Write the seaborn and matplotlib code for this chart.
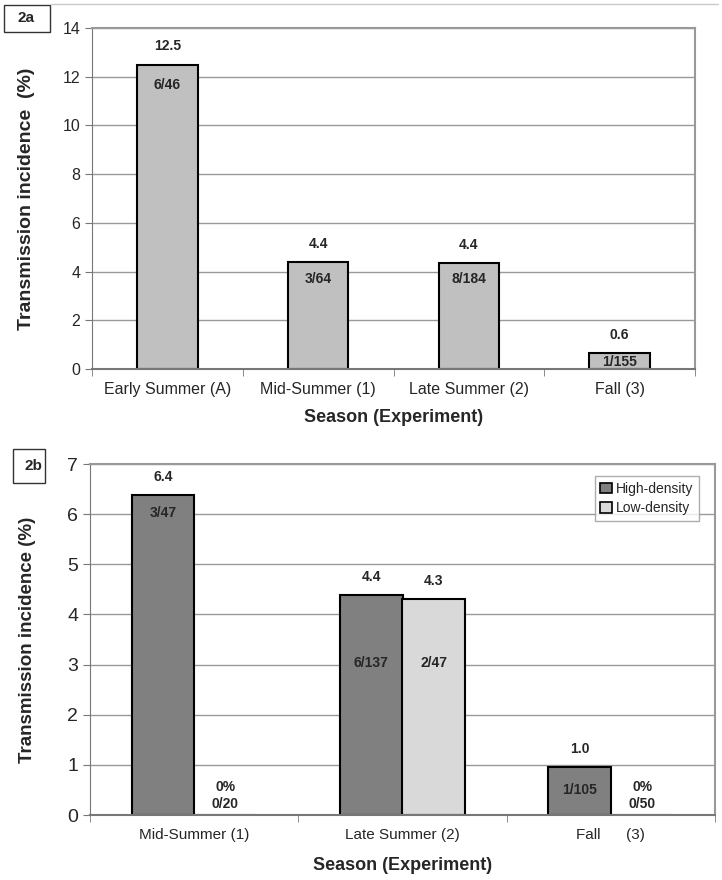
import numpy as np
import pandas as pd
import matplotlib
matplotlib.use("Agg")
import matplotlib.pyplot as plt
import seaborn as sns

# panel 2a data
seasons_a = ["Early Summer (A)", "Mid-Summer (1)", "Late Summer (2)", "Fall (3)"]
incidence_a = [12.5, 4.4, 4.35, 0.65]
value_text_a = ["12.5", "4.4", "4.4", "0.6"]
frac_text_a = ["6/46", "3/64", "8/184", "1/155"]
frac_y_a = [11.65, 3.7, 3.7, 0.3]

# panel 2b data
seasons_b = ["Mid-Summer (1)", "Late Summer (2)", "Fall      (3)"]
density = ["High-density", "Low-density"]
incidence_high = [6.38, 4.38, 0.95]
incidence_low = [0.0, 4.3, 0.0]
value_text_high = ["6.4", "4.4", "1.0"]
value_text_low = ["", "4.3", ""]
frac_text_high = ["3/47", "6/137", "1/105"]
frac_text_low = ["0%\n0/20", "2/47", "0%\n0/50"]
frac_y_high = [6.03, 3.03, 0.5]
frac_y_low = [0.39, 3.03, 0.39]

sns.set_style("white")
plt.rcParams["font.family"] = ["Liberation Sans", "DejaVu Sans"]

W, H = 722, 880
fig = plt.figure(figsize=(W / 100, H / 100), dpi=100)
ax1 = fig.add_axes([92 / W, 511 / H, 603 / W, 341 / H])
ax2 = fig.add_axes([90 / W, 65 / H, 625 / W, 351 / H])

grid_col = "#999999"
bold = dict(fontweight="bold")


def style_axes(ax, n):
    ax.set_xlim(-0.5, n - 0.5)
    ax.yaxis.grid(True, color=grid_col, lw=1)
    ax.set_axisbelow(True)
    for side in ["top", "right"]:
        ax.spines[side].set_color(grid_col)
        ax.spines[side].set_linewidth(1.5)
    ax.spines["left"].set_color("#777777")
    ax.spines["bottom"].set_color("#777777")
    ax.spines["bottom"].set_linewidth(1.5)
    ax.set_xticks(np.arange(n))
    ax.set_xticks(np.arange(n + 1) - 0.5, minor=True)
    ax.tick_params(axis="x", which="major", length=0, pad=9)
    ax.tick_params(axis="x", which="minor", length=5, color="#777777", bottom=True)
    ax.tick_params(axis="y", length=5, color="#777777", left=True)


def panel_tag(label, x0, y0, x1, y1, tx):
    # box given in pixels from the top-left corner
    fig.add_artist(plt.Rectangle((x0 / W, 1 - y1 / H), (x1 - x0) / W, (y1 - y0) / H,
                                 transform=fig.transFigure, fc="white", ec="#333333", lw=1))
    fig.text(tx / W, 1 - (y0 + y1) / 2 / H, label, ha="center", va="center",
             fontsize=11, **bold)


# ---- 2a ----
df_a = pd.DataFrame({"season": seasons_a, "inc": incidence_a})
sns.barplot(data=df_a, x="season", y="inc", color="#C0C0C0", saturation=1,
            width=0.4, edgecolor="black", linewidth=1.5, ax=ax1)
style_axes(ax1, len(seasons_a))
ax1.set_ylim(0, 14)
ax1.set_yticks(range(0, 15, 2))
ax1.tick_params(axis="both", labelsize=11.5)
for i, (v, vt, ft, fy) in enumerate(zip(incidence_a, value_text_a, frac_text_a, frac_y_a)):
    ax1.annotate(vt, (i, v), xytext=(0, 13), textcoords="offset points",
                 ha="center", va="center", fontsize=10, **bold)
    ax1.text(i, fy, ft, ha="center", va="center", fontsize=10, **bold)
ax1.set_xlabel("Season (Experiment)", fontsize=13, labelpad=9, **bold)
ax1.set_ylabel("Transmission incidence  (%)", fontsize=14, **bold)
ax1.yaxis.set_label_coords(-0.094, 0.5)

# ---- 2b ----
df_b = pd.DataFrame({
    "season": seasons_b * 2,
    "density": [density[0]] * 3 + [density[1]] * 3,
    "inc": incidence_high + incidence_low,
})
sns.barplot(data=df_b, x="season", y="inc", hue="density",
            palette=["#808080", "#D9D9D9"], saturation=1, width=0.6,
            edgecolor="black", linewidth=1.5, ax=ax2)
style_axes(ax2, len(seasons_b))
ax2.set_ylim(0, 7)
ax2.set_yticks(range(0, 8))
ax2.tick_params(axis="x", labelsize=11)
ax2.tick_params(axis="y", labelsize=14)
for i in range(len(seasons_b)):
    xh, xl = i - 0.15, i + 0.15
    ax2.annotate(value_text_high[i], (xh, incidence_high[i]), xytext=(0, 13),
                 textcoords="offset points", ha="center", va="center", fontsize=10, **bold)
    if value_text_low[i]:
        ax2.annotate(value_text_low[i], (xl, incidence_low[i]), xytext=(0, 13),
                     textcoords="offset points", ha="center", va="center", fontsize=10, **bold)
    ax2.text(xh, frac_y_high[i], frac_text_high[i], ha="center", va="center", fontsize=10, **bold)
    ax2.text(xl, frac_y_low[i], frac_text_low[i], ha="center", va="center", fontsize=10,
             linespacing=1.3, **bold)
ax2.set_xlabel("Season (Experiment)", fontsize=13, labelpad=11, **bold)
ax2.set_ylabel("Transmission incidence (%)", fontsize=13.5, **bold)
ax2.yaxis.set_label_coords(-0.087, 0.5)
leg = ax2.legend(loc="upper right", bbox_to_anchor=(0.985, 0.985), fontsize=10,
                 frameon=True, fancybox=False, edgecolor=grid_col, handlelength=0.8,
                 handleheight=0.8, handletextpad=0.3, borderpad=0.4, labelspacing=0.4)
leg.get_frame().set_linewidth(1)
for h in leg.legend_handles:
    h.set_edgecolor("black")
    h.set_linewidth(1.2)

# panel tags and thin top rule
fig.add_artist(plt.Line2D([0.07, 0.995], [1 - 4 / H, 1 - 4 / H], color="#c8c8c8", lw=1))
panel_tag("2a", 4, 5, 50, 32, 26)
panel_tag("2b", 13, 449, 45, 483, 33)

fig.savefig("out.png", dpi=100)
